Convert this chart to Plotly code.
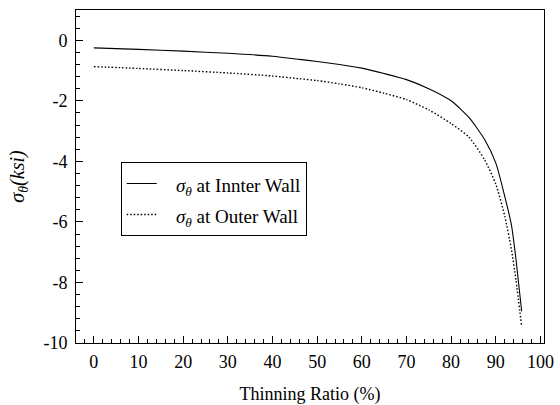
import plotly.graph_objects as go

thinning_ratio = [0, 10, 20, 30, 40, 46, 50, 55, 60, 65, 70, 75, 80, 84, 87.5, 90, 92, 93.5, 94.5, 95.8]
sigma_inner = [-0.25, -0.30, -0.36, -0.43, -0.53, -0.63, -0.70, -0.80, -0.92, -1.10, -1.30, -1.60, -2.00,
               -2.55, -3.28, -4.05, -5.15, -6.10, -7.20, -8.95]
sigma_outer = [-0.87, -0.93, -1.00, -1.08, -1.18, -1.27, -1.33, -1.44, -1.57, -1.75, -1.96, -2.30, -2.75,
               -3.20, -3.95, -4.75, -5.80, -6.90, -7.90, -9.45]

x_ticks = [0, 10, 20, 30, 40, 50, 60, 70, 80, 90, 100]
x_tick_labels = ["0", "10", "20", "30", "40", "50", "60", "70", "80", "90", "100"]
y_ticks = [0, -2, -4, -6, -8, -10]
y_tick_labels = ["0", "-2", "-4", "-6", "-8", "-10"]

FONT = "Liberation Serif"
PAD = "\u00a0\u00a0\u00a0"


def legend_label(text):
    return ('<span style="font-size:19px">' + PAD + "<i>σ</i><sub><i>θ</i></sub> " + text + "</span>")


fig = go.Figure()
fig.add_trace(go.Scatter(x=thinning_ratio, y=sigma_inner, mode="lines",
                         line=dict(color="black", width=1.1, shape="spline", smoothing=0.6),
                         name=legend_label("at Innter Wall")))
fig.add_trace(go.Scatter(x=thinning_ratio, y=sigma_outer, mode="lines",
                         line=dict(color="black", width=1.4, dash="1.5px,2px", shape="spline", smoothing=0.6),
                         name=legend_label("at Outer Wall")))

axis_common = dict(showline=True, linecolor="black", linewidth=1, mirror=True,
                   ticks="inside", tickcolor="black", showgrid=False, zeroline=False,
                   automargin=False,
                   tickfont=dict(family=FONT, size=18, color="black"))

fig.update_layout(
    width=560, height=405,
    margin=dict(l=76, r=16, t=10, b=62),
    paper_bgcolor="white", plot_bgcolor="white",
    font=dict(family=FONT, color="black"),
    showlegend=True,
    legend=dict(x=0.0955, y=0.5435, xanchor="left", yanchor="top",
                bgcolor="white", bordercolor="black", borderwidth=1,
                font=dict(family=FONT, size=21.5, color="black")),
    xaxis=dict(range=[-4, 100.8], tickmode="array", tickvals=x_ticks, ticktext=x_tick_labels, ticklen=7,
               minor=dict(ticks="inside", tickmode="linear", tick0=0, dtick=2, ticklen=4, tickcolor="black"),
               ticklabelstandoff=2,
               title=dict(text="Thinning Ratio (%)", font=dict(family=FONT, size=18, color="black"), standoff=20),
               **axis_common),
    yaxis=dict(range=[-10, 1], tickmode="array", tickvals=y_ticks, ticktext=y_tick_labels, ticklen=7,
               minor=dict(ticks="inside", tickmode="linear", tick0=0, dtick=0.4, ticklen=4, tickcolor="black"),
               ticklabelstandoff=4,
               title=dict(text="<i>σ</i><sub><i>θ</i></sub><i>(ksi)</i>", font=dict(family=FONT, size=20, color="black"), standoff=13),
               **axis_common),
)

fig.write_html("out.html", config={"displayModeBar": False},
               post_script="document.body.style.margin='0';document.body.style.overflow='hidden';")
